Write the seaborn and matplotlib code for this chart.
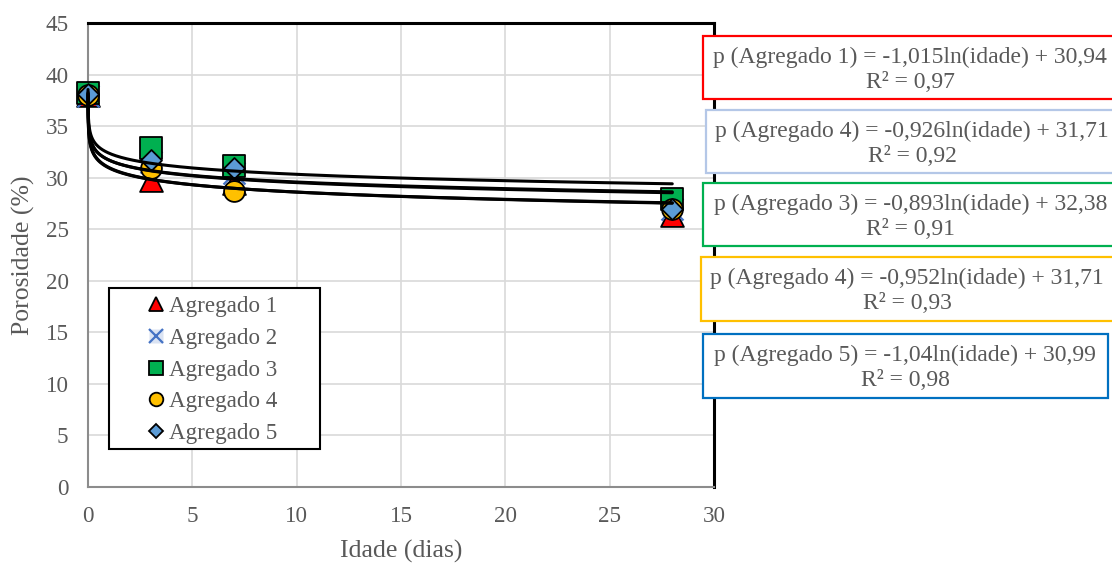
import numpy as np
import pandas as pd
import matplotlib
matplotlib.use("Agg")
import matplotlib.pyplot as plt
from matplotlib.lines import Line2D
from matplotlib.patches import Rectangle
import seaborn as sns

# Measured porosity (%) by age (days)
idade = [0, 3, 7, 28]
agregado1 = [38.0, 29.8, 29.5, 26.4]
agregado2 = [37.9, 31.5, 30.5, 27.0]
agregado3 = [38.2, 32.9, 31.1, 27.9]
agregado4 = [38.0, 30.9, 28.7, 27.0]
agregado5 = [38.1, 31.7, 30.9, 27.0]

series_names = ["Agregado 1", "Agregado 2", "Agregado 3", "Agregado 4", "Agregado 5"]

# Logarithmic trend lines p = a*ln(idade) + b
coef_a = [-1.015, -0.926, -0.893, -0.952, -1.04]
coef_b = [30.94, 31.71, 32.38, 31.71, 30.99]
r2 = [0.97, 0.92, 0.91, 0.93, 0.98]
eq_labels = ["Agregado 1", "Agregado 4", "Agregado 3", "Agregado 4", "Agregado 5"]
eq_a_text = ["-1,015", "-0,926", "-0,893", "-0,952", "-1,04"]
eq_b_text = ["30,94", "31,71", "32,38", "31,71", "30,99"]
r2_text = ["0,97", "0,92", "0,91", "0,93", "0,98"]

sns.set_theme(style="white")
plt.rcParams["font.family"] = ["Liberation Serif", "DejaVu Serif"]

TXT = "#595959"
GRID = "#d9d9d9"

marker_styles = [
    dict(marker="^", color="#ff0000", edgecolor="black", s=270, linewidth=1.3),
    dict(marker="x", color="#4472c4", s=250, linewidth=1.6),
    dict(marker="s", color="#00b050", edgecolor="black", s=250, linewidth=1.3),
    dict(marker="o", color="#ffc000", edgecolor="black", s=225, linewidth=1.3),
    dict(marker="D", color="#5b9bd5", edgecolor="black", s=114, linewidth=1.3),
]

W, H = 1112, 563
fig = plt.figure(figsize=(W / 100, H / 100), dpi=100)
ax = fig.add_axes([88 / W, 76 / H, (714 - 88) / W, (487 - 23) / H])

all_series = [agregado1, agregado2, agregado3, agregado4, agregado5]
for name, vals, st in zip(series_names, all_series, marker_styles):
    df = pd.DataFrame({"idade": idade, "p": vals})
    sns.scatterplot(data=df, x="idade", y="p", ax=ax, zorder=3, legend=False,
                    clip_on=False, **st)

# Trend curves
xs = np.geomspace(0.001, 28, 500)
for a, b in zip(coef_a, coef_b):
    dfl = pd.DataFrame({"idade": xs, "p": a * np.log(xs) + b})
    sns.lineplot(data=dfl, x="idade", y="p", ax=ax, color="black", linewidth=2.2,
                 zorder=4, clip_on=False)

ax.set_xlim(0, 30)
ax.set_ylim(0, 45)
ax.set_xticks(range(0, 31, 5))
ax.set_yticks(range(0, 46, 5))
ax.grid(True, color=GRID, linewidth=1.2)
ax.set_axisbelow(True)
ax.tick_params(axis="both", length=0, labelsize=16.6, colors=TXT)
ax.tick_params(axis="y", pad=14)
ax.tick_params(axis="x", pad=14)
ax.set_xlabel("Idade (dias)", fontsize=18.5, color=TXT, va="center")
ax.set_ylabel("Porosidade (%)", fontsize=18.5, color=TXT, va="center", ha="center")
ax.xaxis.set_label_coords(0.5, (487 - 551.7) / 464)
ax.yaxis.set_label_coords((23 - 88) / 626, 0.5)

for side in ["left", "bottom"]:
    ax.spines[side].set_color("#8c8c8c")
    ax.spines[side].set_linewidth(1.5)
for side in ["top", "right"]:
    ax.spines[side].set_color("black")
    ax.spines[side].set_linewidth(2.2)

# Legend with its own frame
handles = []
for name, st in zip(series_names, marker_styles):
    mk = st["marker"]
    if mk == "x":
        bg = Line2D([], [], linestyle="none", marker="s", markersize=10,
                    markerfacecolor="#dae3f3", markeredgecolor="none")
        fg = Line2D([], [], linestyle="none", marker="x", markersize=9.6,
                    markeredgecolor=st["color"], markeredgewidth=1.6)
        handles.append((bg, fg))
    else:
        handles.append(Line2D([], [], linestyle="none", marker=mk,
                              markersize=9.8 if mk != "D" else 7.5,
                              markerfacecolor=st["color"], markeredgecolor="black",
                              markeredgewidth=1.3))
leg = ax.legend(handles=handles, labels=series_names, loc="upper left",
                bbox_to_anchor=(147 / W, 1 - 296 / H),
                bbox_transform=fig.transFigure,
                borderaxespad=0, borderpad=0, fontsize=16.6, frameon=False,
                handletextpad=0.15, handlelength=0.8, labelspacing=0.46)
for t in leg.get_texts():
    t.set_color(TXT)
leg.set_zorder(6)
frame = Rectangle((109 / W, 1 - 449 / H), (320 - 109) / W, (449 - 288) / H,
                  transform=fig.transFigure, facecolor="white", edgecolor="black",
                  linewidth=1.5, zorder=5.5, clip_on=False)
ax.add_patch(frame)

# Trend-line equation boxes (pixel geometry: left, top, bottom, text centre)
box_geom = [
    (703, 36, 99, 910),
    (706, 110, 173, 912),
    (703, 183, 246, 911),
    (701, 257, 321, 907),
    (703, 334, 398, 905),
]
box_right = [1125, 1125, 1125, 1125, 1108]
box_colors = ["#ff0000", "#b4c7e7", "#00b050", "#ffc000", "#0070c0"]

for i, (left, top, bottom, cx) in enumerate(box_geom):
    rect = Rectangle((left / W, 1 - bottom / H), (box_right[i] - left) / W,
                     (bottom - top) / H, transform=fig.transFigure,
                     facecolor="white", edgecolor=box_colors[i], linewidth=1.6,
                     zorder=10)
    fig.add_artist(rect)
    text = (f"p ({eq_labels[i]}) = {eq_a_text[i]}ln(idade) + {eq_b_text[i]}\n"
            f"R² = {r2_text[i]}")
    fig.text(cx / W, 1 - ((top + bottom) / 2 + 2) / H, text, ha="center",
             va="center", multialignment="center", fontsize=17, color=TXT,
             zorder=11, linespacing=1.24)

fig.savefig("out.png", dpi=100)
